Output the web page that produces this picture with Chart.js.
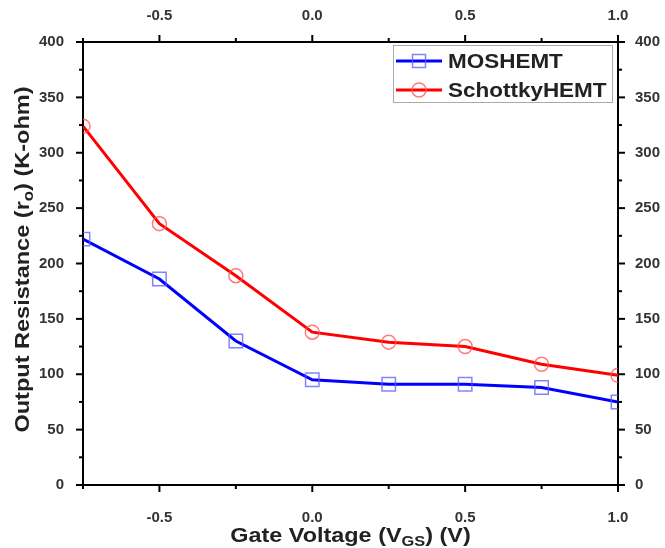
<!DOCTYPE html>
<html>
<head>
<meta charset="utf-8">
<script src="https://cdn.jsdelivr.net/npm/chart.js@4.4.1/dist/chart.umd.min.js"></script>
<style>
html, body { margin: 0; padding: 0; background: #fff; }
#wrap { width: 665px; height: 548px; }
</style>
</head>
<body>
<div id="wrap"><canvas id="resChart"></canvas></div>
<script>
const gateVoltages = [-0.75, -0.5, -0.25, 0.0, 0.25, 0.5, 0.75, 1.0];
const mosHemt = [222, 186, 130, 95, 91, 91, 88, 75];
const schottkyHemt = [324, 236, 189, 138, 129, 125, 109, 99];
const xTickLabels = [-0.5, 0.0, 0.5, 1.0];
const yTickLabels = [0, 50, 100, 150, 200, 250, 300, 350, 400];

const FONT = "'Liberation Sans', Arial, sans-serif";

function toPoints(values) {
    return gateVoltages.map((v, i) => ({ x: v, y: values[i] }));
}

function xLabel(value) {
    return xTickLabels.some(t => Math.abs(t - value) < 1e-6) ? value.toFixed(1) : '';
}

function yLabel(value) {
    return yTickLabels.includes(value) ? String(value) : '';
}

// draws "text" with some parts lowered as subscripts, centred on x
function drawParts(ctx, parts, x, y, size, stretch) {
    const big = 'bold ' + size + 'px ' + FONT;
    const small = 'bold ' + Math.round(size * 0.72) + 'px ' + FONT;
    let total = 0;
    parts.forEach(p => {
        ctx.font = p.sub ? small : big;
        total += ctx.measureText(p.t).width;
    });
    ctx.save();
    ctx.translate(x, y);
    ctx.scale(stretch, 1);
    let cx = -total / 2;
    ctx.textBaseline = 'middle';
    ctx.textAlign = 'left';
    ctx.fillStyle = '#222';
    parts.forEach(p => {
        ctx.font = p.sub ? small : big;
        ctx.fillText(p.t, cx, p.sub ? size * 0.3 : 0);
        cx += ctx.measureText(p.t).width;
    });
    ctx.restore();
}

const frameTicks = {
    id: 'frameTicks',
    afterDraw(chart) {
        const ctx = chart.ctx;
        ctx.save();
        ctx.strokeStyle = '#000';
        ctx.lineWidth = 2;
        ['x', 'x2', 'y', 'y2'].forEach(id => {
            const scale = chart.scales[id];
            scale.ticks.forEach(tick => {
                const major = tick.label !== '';
                const len = major ? 7 : 4;
                const p = scale.getPixelForValue(tick.value);
                ctx.beginPath();
                if (id === 'x') { ctx.moveTo(p, scale.top); ctx.lineTo(p, scale.top + len); }
                if (id === 'x2') { ctx.moveTo(p, scale.bottom); ctx.lineTo(p, scale.bottom - len); }
                if (id === 'y') { ctx.moveTo(scale.right, p); ctx.lineTo(scale.right - len, p); }
                if (id === 'y2') { ctx.moveTo(scale.left, p); ctx.lineTo(scale.left + len, p); }
                ctx.stroke();
            });
        });
        ctx.restore();
    }
};

const axisTitles = {
    id: 'axisTitles',
    afterDraw(chart) {
        const ctx = chart.ctx;
        const area = chart.chartArea;
        drawParts(ctx, [
            { t: 'Gate Voltage (V' }, { t: 'GS', sub: true }, { t: ') (V)' }
        ], (area.left + area.right) / 2, 536, 20, 1.17);
        ctx.save();
        ctx.translate(23, (area.top + area.bottom) / 2 - 4);
        ctx.rotate(-Math.PI / 2);
        drawParts(ctx, [
            { t: 'Output Resistance (r' }, { t: 'o', sub: true }, { t: ') (K-ohm)' }
        ], 0, 0, 21, 1.12);
        ctx.restore();
    }
};

const boxLegend = {
    id: 'boxLegend',
    afterDraw(chart) {
        const ctx = chart.ctx;
        const area = chart.chartArea;
        const right = area.right - 6, top = area.top + 3;
        const left = right - 219, h = 57;
        ctx.save();
        ctx.fillStyle = '#fff';
        ctx.fillRect(left, top, right - left, h);
        ctx.strokeStyle = '#aaa';
        ctx.lineWidth = 1;
        ctx.strokeRect(left + 0.5, top + 0.5, right - left, h);
        chart.data.datasets.forEach((ds, i) => {
            const y = top + 16 + i * 29;
            ctx.strokeStyle = ds.borderColor;
            ctx.lineWidth = 3;
            ctx.beginPath();
            ctx.moveTo(left + 3, y);
            ctx.lineTo(left + 49, y);
            ctx.stroke();
            ctx.strokeStyle = ds.pointBorderColor;
            ctx.lineWidth = ds.pointBorderWidth;
            ctx.beginPath();
            if (ds.pointStyle === 'rect') {
                ctx.rect(left + 26 - 6.5, y - 6.5, 13, 13);
            } else {
                ctx.arc(left + 26, y, 7, 0, Math.PI * 2);
            }
            ctx.stroke();
            ctx.fillStyle = '#222';
            ctx.font = 'bold 21px ' + FONT;
            ctx.textBaseline = 'middle';
            ctx.save();
            ctx.translate(left + 55, y + 1);
            ctx.scale(1.07, 1);
            ctx.fillText(ds.label, 0, 0);
            ctx.restore();
        });
        ctx.restore();
    }
};

const tickFont = { family: FONT, size: 15, weight: 'bold' };

new Chart(document.getElementById('resChart'), {
    type: 'line',
    data: {
        datasets: [{
            label: 'MOSHEMT',
            data: toPoints(mosHemt),
            borderColor: '#0000ff',
            borderWidth: 3,
            pointStyle: 'rect',
            pointRadius: 9.5,
            pointBorderColor: 'rgba(90, 90, 255, 0.75)',
            pointBorderWidth: 1.5,
            pointBackgroundColor: 'rgba(255, 255, 255, 0)',
            tension: 0
        }, {
            label: 'SchottkyHEMT',
            data: toPoints(schottkyHemt),
            borderColor: '#ff0000',
            borderWidth: 3,
            pointStyle: 'circle',
            pointRadius: 7,
            pointBorderColor: 'rgba(255, 80, 80, 0.75)',
            pointBorderWidth: 1.5,
            pointBackgroundColor: 'rgba(255, 255, 255, 0)',
            tension: 0
        }]
    },
    options: {
        responsive: true,
        maintainAspectRatio: false,
        animation: false,
        layout: { padding: 0 },
        plugins: {
            legend: { display: false },
            tooltip: { enabled: false }
        },
        scales: {
            x: {
                type: 'linear',
                position: 'bottom',
                min: -0.75,
                max: 1.0,
                grid: { display: false },
                border: { display: true, color: '#000', width: 2 },
                ticks: { stepSize: 0.25, color: '#333', font: tickFont, padding: 16, maxRotation: 0, autoSkip: false, callback: xLabel },
                afterFit(scale) { scale.height = 63; }
            },
            x2: {
                type: 'linear',
                position: 'top',
                min: -0.75,
                max: 1.0,
                grid: { display: false },
                border: { display: true, color: '#000', width: 2 },
                ticks: { stepSize: 0.25, color: '#333', font: tickFont, padding: 9, maxRotation: 0, autoSkip: false, callback: xLabel },
                afterFit(scale) { scale.height = 42; }
            },
            y: {
                position: 'left',
                min: 0,
                max: 400,
                grid: { display: false },
                border: { display: true, color: '#000', width: 2 },
                ticks: { stepSize: 25, color: '#333', font: tickFont, padding: 11, autoSkip: false, callback: yLabel },
                afterFit(scale) { scale.width = 83; }
            },
            y2: {
                position: 'right',
                min: 0,
                max: 400,
                grid: { display: false },
                border: { display: true, color: '#000', width: 2 },
                ticks: { stepSize: 25, color: '#333', font: tickFont, padding: 9, autoSkip: false, callback: yLabel },
                afterFit(scale) { scale.width = 47; }
            }
        }
    },
    plugins: [frameTicks, axisTitles, boxLegend]
});
</script>
</body>
</html>
